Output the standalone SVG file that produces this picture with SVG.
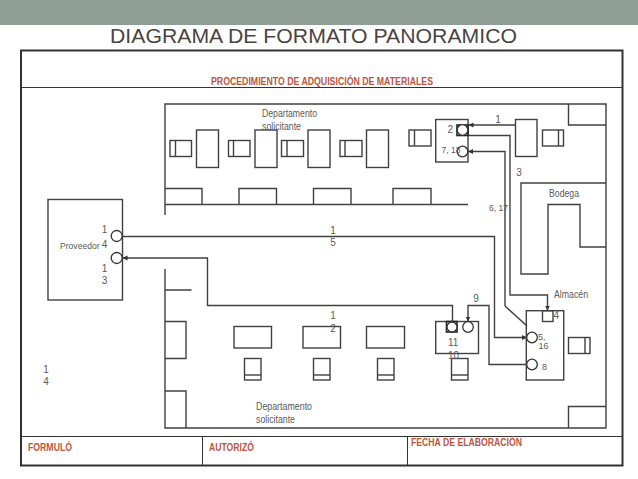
<svg xmlns="http://www.w3.org/2000/svg" width="638" height="479" viewBox="0 0 638 479">
<style>
.l{fill:none;stroke:#404040;stroke-width:1.4}
.b{fill:none;stroke:#333;stroke-width:2}
.s{fill:none;stroke:#333;stroke-width:1}
.c{fill:#fff;stroke:#333;stroke-width:1.3}
.d{fill:none;stroke:#222;stroke-width:1.6}
text{font-family:"Liberation Sans",Arial,sans-serif;font-size:10px;fill:#5a5a5a}
.r{font-weight:bold;fill:#bd5540;font-size:10px}
.t{font-size:21px;fill:#4a4440}
</style>
<defs>
<marker id="a" markerWidth="6" markerHeight="6" refX="5" refY="2.500" orient="auto" markerUnits="userSpaceOnUse"><path d="M0 0L5 2.500L0 5z" fill="#333"/></marker>
</defs>
<rect width="638" height="479" fill="#fff"/>
<rect width="638" height="25" fill="#8f9e95"/>
<text class="t" x="110" y="43" textLength="407" lengthAdjust="spacingAndGlyphs">DIAGRAMA DE FORMATO PANORAMICO</text>
<g id="frame">
<rect class="b" x="21" y="50.500" width="601.500" height="415"/>
<path class="s" d="M21 87.500H622M21 436.500H622M202.500 436.500V465M407.500 436.500V465"/>
<text class="r" x="211" y="85" textLength="222" lengthAdjust="spacingAndGlyphs">PROCEDIMIENTO DE ADQUISICIÓN DE MATERIALES</text>
<text class="r" x="28" y="451" textLength="44" lengthAdjust="spacingAndGlyphs">FORMULÓ</text>
<text class="r" x="209" y="451" textLength="45" lengthAdjust="spacingAndGlyphs">AUTORIZÓ</text>
<text class="r" x="411" y="446" textLength="111" lengthAdjust="spacingAndGlyphs">FECHA DE ELABORACIÓN</text>
<text x="46" y="373" text-anchor="middle">1</text>
<text x="46" y="385" text-anchor="middle">4</text>
</g>
<g id="plant">
<path class="l" d="M165 215V104H606V428H165V269M165 290H191.500M165 204.500H468"/>
<path class="l" d="M165 188.500H202V204.500M239 204.500V188.500H276.500V204.500M313.500 204.500V188.500H351V204.500M393 204.500V188.500H431V204.500"/>
<path class="l" d="M568.500 104V125H606M606 183H521V274H548V204.500H580V247H606"/>
<path class="l" d="M165 321.500H186V358.500H165M165 391H186V428M568.500 428V406.500H606"/>
<g class="l">
<rect x="170" y="140.500" width="21.500" height="16"/><path d="M175.500 140.500V156.500"/>
<rect x="196.500" y="130" width="22" height="37.500"/>
<rect x="228.500" y="140.500" width="21.500" height="16"/><path d="M233.500 140.500V156.500"/>
<rect x="255" y="130" width="22" height="37.500"/>
<rect x="281.500" y="140.500" width="22" height="16"/><path d="M287 140.500V156.500"/>
<rect x="308" y="130" width="22" height="37.500"/>
<rect x="340" y="140.500" width="22" height="16"/><path d="M345 140.500V156.500"/>
<rect x="366.500" y="130" width="22" height="37.500"/>
<rect x="409" y="130" width="22" height="16"/><path d="M414.500 130V146"/>
<rect x="515.500" y="119.500" width="21.500" height="37"/>
<rect x="542.500" y="130" width="21" height="16"/><path d="M558.500 130V146"/>
<rect x="568.500" y="337.500" width="21.500" height="16"/><path d="M585 337.500V353.500"/>
<rect x="234" y="326.500" width="37.500" height="21.500"/>
<rect x="303" y="326.500" width="37.500" height="21.500"/>
<rect x="366.500" y="326.500" width="38" height="21.500"/>
<rect x="244.500" y="358.500" width="16.500" height="21.500"/><path d="M244.500 375H261"/>
<rect x="313.500" y="358.500" width="16.500" height="21.500"/><path d="M313.500 375H330"/>
<rect x="377.500" y="358.500" width="16.500" height="21.500"/><path d="M377.500 375H394"/>
<rect x="451.500" y="358.500" width="16.500" height="21.500"/><path d="M451.500 375H468"/>
</g>
<text x="262" y="117" textLength="55" lengthAdjust="spacingAndGlyphs">Departamento</text>
<text x="262" y="130" textLength="39" lengthAdjust="spacingAndGlyphs">solicitante</text>
<text x="256" y="410" textLength="56" lengthAdjust="spacingAndGlyphs">Departamento</text>
<text x="256" y="423" textLength="39" lengthAdjust="spacingAndGlyphs">solicitante</text>
<text x="549" y="197" textLength="30" lengthAdjust="spacingAndGlyphs">Bodega</text>
<text x="554" y="298" textLength="34" lengthAdjust="spacingAndGlyphs">Almacén</text>
</g>
<g id="connectors">
<path class="l" marker-end="url(#a)" d="M515.500 125H468.500"/>
<path class="l" marker-end="url(#a)" d="M468 135.500H510V295H547.500V310.500"/>
<path class="l" d="M505 306L527 326"/>
<path class="l" marker-end="url(#a)" d="M505 306V151.500H468"/>
<path class="l" marker-end="url(#a)" d="M122 236.500H494.500V337.500H527"/>
<path class="l" marker-end="url(#a)" d="M452.500 321.500V305.500H207.500V258H122.500"/>
<path class="l" marker-end="url(#a)" d="M527 364.500H489V305.500H468V321.500"/>
<text x="498" y="123" text-anchor="middle">1</text>
<text x="519" y="176" text-anchor="middle">3</text>
<text x="489" y="211" style="font-size:8.500px">6, 17</text>
<text x="476" y="302" text-anchor="middle">9</text>
<text x="333" y="234" text-anchor="middle">1</text>
<text x="333" y="246" text-anchor="middle">5</text>
<text x="333" y="319" text-anchor="middle">1</text>
<text x="333" y="332" text-anchor="middle">2</text>
</g>
<g id="proveedor">
<rect class="l" x="48" y="199.500" width="74.500" height="100.500"/>
<circle class="c" cx="116.700" cy="236" r="5.500"/>
<circle class="c" cx="116.700" cy="258" r="5.500"/>
<text x="60" y="249" style="font-size:8.600px">Proveedor</text>
<text x="104.500" y="248" text-anchor="middle">4</text>
<text x="104.500" y="233" text-anchor="middle">1</text>
<text x="104.500" y="272" text-anchor="middle">1</text>
<text x="104.500" y="284" text-anchor="middle">3</text>
</g>
<g id="solicitud">
<rect class="l" x="435.700" y="119.500" width="32.300" height="42.500"/>
<rect class="d" x="457" y="125" width="11" height="10.500"/>
<circle class="c" cx="462.500" cy="130" r="5.300"/>
<circle class="c" cx="462.500" cy="151.500" r="5.300"/>
<text x="447.500" y="133">2</text>
<text x="441.500" y="153" style="font-size:8.500px">7, 18</text>
</g>
<g id="recepcion">
<rect class="l" x="435.700" y="321.500" width="42.800" height="32"/>
<rect class="d" x="446.500" y="321.500" width="10.500" height="10.500"/>
<circle class="c" cx="452" cy="327" r="5"/>
<circle class="c" cx="468" cy="327" r="5.300"/>
<text x="448" y="346">11</text>
<text x="448" y="359">10</text>
</g>
<g id="almacen">
<rect class="l" x="526.300" y="310.700" width="37.400" height="69.300"/>
<rect class="l" x="542.500" y="310.700" width="10.500" height="10.800"/>
<circle class="c" cx="532" cy="337.500" r="5.300"/>
<circle class="c" cx="532" cy="364.500" r="5.300"/>
<text x="553.500" y="319">4</text>
<text x="538" y="340" style="font-size:9px">5,</text>
<text x="538.500" y="349" style="font-size:9px">16</text>
<text x="542" y="370" style="font-size:9px">8</text>
</g>
</svg>
